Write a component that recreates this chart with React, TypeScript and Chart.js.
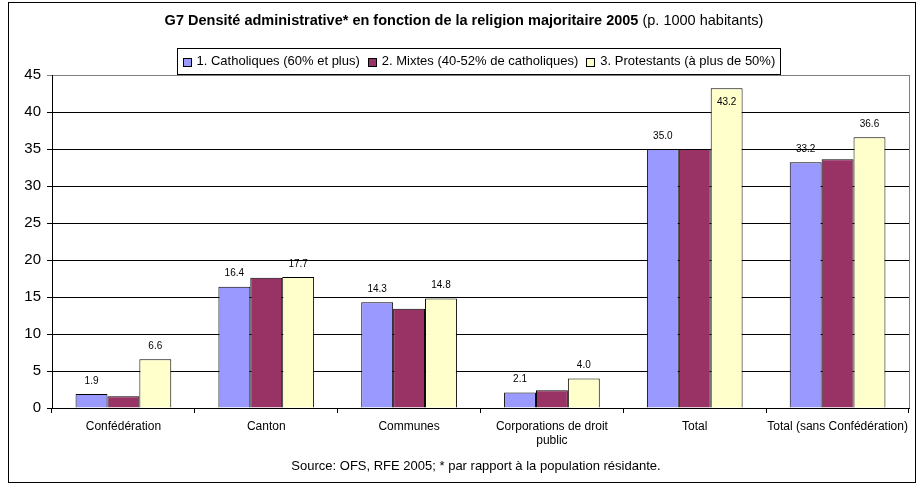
import React, { useEffect, useRef } from "react";
import { Chart, registerables } from "chart.js";
Chart.register(...registerables);

const categories: string[][] = [
  ["Confédération"],
  ["Canton"],
  ["Communes"],
  ["Corporations de droit", "public"],
  ["Total"],
  ["Total (sans Confédération)"],
];
const seriesNames = [
  "1. Catholiques (60% et plus)",
  "2. Mixtes (40-52% de catholiques)",
  "3. Protestants (à plus de 50%)",
];
const catholiques = [1.9, 16.4, 14.3, 2.1, 35.0, 33.2];
const mixtes = [1.6, 17.6, 13.4, 2.4, 35.0, 33.6];
const protestants = [6.6, 17.7, 14.8, 4.0, 43.2, 36.6];
const showLabels = [true, false, true];
const seriesColors = ["#9999FF", "#993366", "#FFFFCC"];
const yMin = 0;
const yMax = 45;
const yStep = 5;
const titleBold = "G7 Densité administrative* en fonction de la religion majoritaire 2005";
const titleNormal = " (p. 1000 habitants)";
const footerText = "Source: OFS, RFE 2005; * par rapport à la population résidante.";

const FONT = "'Liberation Sans', Arial, sans-serif";

const decorPlugin = {
  id: "decor",
  afterDraw(chart: any) {
    const ctx = chart.ctx as CanvasRenderingContext2D;
    const ca = chart.chartArea;
    ctx.save();
    // plot area right border
    ctx.strokeStyle = "#808080";
    ctx.lineWidth = 1;
    ctx.beginPath();
    ctx.moveTo(Math.round(ca.right) + 0.5, ca.top);
    ctx.lineTo(Math.round(ca.right) + 0.5, ca.bottom);
    ctx.stroke();

    // data labels
    ctx.fillStyle = "#000";
    ctx.font = `10px ${FONT}`;
    ctx.textAlign = "center";
    ctx.textBaseline = "middle";
    chart.data.datasets.forEach((ds: any, i: number) => {
      if (!showLabels[i]) return;
      const meta = chart.getDatasetMeta(i);
      meta.data.forEach((bar: any, j: number) => {
        const v = ds.data[j];
        let y = bar.y - 13;
        if (y < ca.top + 6) y = bar.y + 14;
        ctx.fillText(v.toFixed(1), bar.x, y);
      });
    });

    // title
    ctx.textBaseline = "middle";
    ctx.textAlign = "left";
    ctx.font = `bold 14.5px ${FONT}`;
    const wb = ctx.measureText(titleBold).width;
    ctx.font = `14.5px ${FONT}`;
    const wn = ctx.measureText(titleNormal).width;
    const tx = 464 - (wb + wn) / 2;
    ctx.font = `bold 14.5px ${FONT}`;
    ctx.fillText(titleBold, tx, 21);
    ctx.font = `14.5px ${FONT}`;
    ctx.fillText(titleNormal, tx + wb, 21);

    // legend
    ctx.font = `13px ${FONT}`;
    const box = 8;
    const gapAfterBox = 6;
    const itemGap = 8;
    const widths = seriesNames.map((s) => ctx.measureText(s).width);
    const total =
      widths.reduce((a, b) => a + b, 0) + seriesNames.length * (box + gapAfterBox) + (seriesNames.length - 1) * itemGap;
    const padX = 5;
    const lw = Math.round(total + padX * 2);
    const lx = Math.round(478 - lw / 2) + 0.5;
    const ly = 48.5;
    const lh = 26;
    ctx.fillStyle = "#fff";
    ctx.fillRect(lx, ly, lw, lh);
    ctx.strokeStyle = "#000";
    ctx.lineWidth = 1;
    ctx.strokeRect(lx, ly, lw, lh);
    let x = lx + padX;
    const cy = ly + lh / 2;
    seriesNames.forEach((s, i) => {
      ctx.fillStyle = seriesColors[i];
      ctx.fillRect(Math.round(x) + 0.5, Math.round(cy - box / 2) + 0.5, box, box);
      ctx.strokeStyle = "#000";
      ctx.strokeRect(Math.round(x) + 0.5, Math.round(cy - box / 2) + 0.5, box, box);
      x += box + gapAfterBox;
      ctx.fillStyle = "#000";
      ctx.fillText(s, x, cy);
      x += widths[i] + itemGap;
    });

    // footer
    ctx.textAlign = "center";
    ctx.font = `13px ${FONT}`;
    ctx.fillText(footerText, 476, 466);

    // outer border
    ctx.strokeStyle = "#000";
    ctx.strokeRect(8.5, 2.5, 907, 480);
    ctx.restore();
  },
};

export default function App() {
  const ref = useRef<HTMLCanvasElement>(null);
  useEffect(() => {
    if (!ref.current) return;
    const chart = new Chart(ref.current, {
      type: "bar",
      data: {
        labels: categories,
        datasets: [catholiques, mixtes, protestants].map((d, i) => ({
          label: seriesNames[i],
          data: d,
          backgroundColor: seriesColors[i],
          borderColor: "#000",
          borderWidth: 1,
          barPercentage: 1,
          categoryPercentage: 0.67,
        })),
      },
      options: {
        animation: false,
        responsive: false,
        devicePixelRatio: 1,
        layout: { padding: { left: 0, top: 75, right: 11, bottom: 28 } },
        plugins: {
          legend: { display: false },
          title: { display: false },
          tooltip: { enabled: false },
        },
        scales: {
          x: {
            afterFit: (s: any) => {
              s.height = 50;
            },
            grid: { offset: true, drawOnChartArea: false, drawTicks: true, tickLength: 5, color: "#000" },
            border: { display: true, color: "#000", width: 1 },
            ticks: {
              font: { family: FONT, size: 12 },
              color: "#000",
              maxRotation: 0,
              autoSkip: false,
              padding: 6,
            },
          },
          y: {
            min: yMin,
            max: yMax,
            afterFit: (s: any) => {
              s.width = 52;
            },
            grid: {
              color: (c: any) => (c.tick && c.tick.value === yMax ? "#808080" : "#000"),
              lineWidth: 1,
              tickLength: 5,
              drawTicks: true,
            },
            border: { display: true, color: "#000", width: 1 },
            ticks: {
              stepSize: yStep,
              font: { family: FONT, size: 15 },
              color: "#000",
              padding: 6,
            },
          },
        },
      },
      plugins: [decorPlugin],
    });
    return () => chart.destroy();
  }, []);
  return (
    <div style={{ position: "fixed", left: 0, top: 0, width: 920, height: 486, background: "#fff" }}>
      <canvas ref={ref} width={920} height={486} />
    </div>
  );
}
